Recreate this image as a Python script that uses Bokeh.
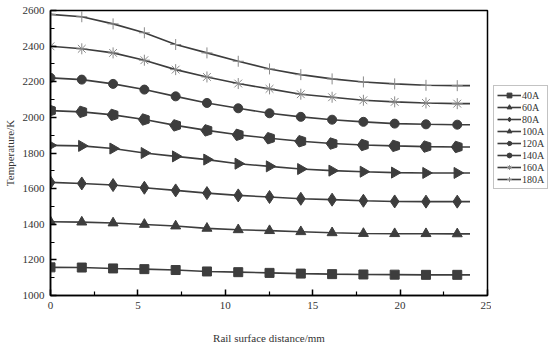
import math
from bokeh.plotting import figure
from bokeh.layouts import row
from bokeh.models import Legend, LegendItem, Range1d, FixedTicker
from bokeh.embed import file_html
from bokeh.resources import INLINE

# ---- data ----
x_mm = [0.0, 1.79, 3.58, 5.37, 7.16, 8.95, 10.74, 12.53, 14.32, 16.11, 17.9, 19.69, 21.48, 23.27, 24.0]
n_markers = 14
series_labels = ["40A", "60A", "80A", "100A", "120A", "140A", "160A", "180A"]
t_40A = [1158, 1157, 1152, 1148, 1143, 1135, 1131, 1127, 1123, 1120, 1118, 1117, 1116, 1116, 1116]
t_60A = [1414, 1412, 1407, 1399, 1390, 1377, 1369, 1364, 1358, 1352, 1348, 1347, 1347, 1346, 1346]
t_80A = [1635, 1629, 1620, 1605, 1590, 1575, 1562, 1553, 1543, 1538, 1532, 1528, 1527, 1527, 1527]
t_100A = [1843, 1840, 1825, 1800, 1781, 1763, 1740, 1725, 1710, 1701, 1695, 1690, 1688, 1688, 1688]
t_120A = [2038, 2031, 2014, 1988, 1955, 1927, 1902, 1883, 1866, 1853, 1845, 1840, 1836, 1834, 1834]
t_140A = [2222, 2212, 2188, 2156, 2118, 2081, 2051, 2023, 2003, 1987, 1975, 1965, 1961, 1959, 1959]
t_160A = [2399, 2385, 2362, 2321, 2268, 2227, 2190, 2160, 2130, 2113, 2096, 2087, 2081, 2077, 2077]
t_180A = [2578, 2565, 2525, 2475, 2409, 2362, 2315, 2272, 2240, 2216, 2199, 2188, 2180, 2178, 2178]
x_ticks = [0, 5, 10, 15, 20, 25]
y_ticks = [1000, 1200, 1400, 1600, 1800, 2000, 2200, 2400, 2600]

all_series = [t_40A, t_60A, t_80A, t_100A, t_120A, t_140A, t_160A, t_180A]
markers = ["square", "triangle", "diamond", "triangle_r", "pentagon", "circle", "asterisk", "cross"]

FONT = "Liberation Serif"
DARK = "#3d3d3d"
LIGHT = "#8a8a8a"

p = figure(width=491, height=346, output_backend="svg", toolbar_location=None,
           x_range=Range1d(0, 25), y_range=Range1d(1000, 2600),
           min_border_left=50, min_border_right=4, min_border_top=10, min_border_bottom=50)
p.xgrid.visible = False
p.ygrid.visible = False
p.outline_line_color = "black"
p.outline_line_width = 1.5
p.outline_line_alpha = 1.0

for ax in (p.xaxis[0], p.yaxis[0]):
    ax.axis_line_color = "black"
    ax.axis_line_width = 1.5
    ax.major_tick_line_color = "black"
    ax.minor_tick_line_color = "black"
    ax.major_tick_line_width = 1.5
    ax.minor_tick_line_width = 1.2
    ax.major_tick_in = 6
    ax.major_tick_out = 0
    ax.minor_tick_in = 4
    ax.minor_tick_out = 0
    ax.major_label_text_font = FONT
    ax.major_label_text_font_size = "11px"
    ax.major_label_text_color = "#333333"
    ax.axis_label_text_font = FONT
    ax.axis_label_text_font_size = "11px"
    ax.axis_label_text_font_style = "normal"
    ax.axis_label_text_color = "#333333"

p.xaxis[0].ticker = FixedTicker(ticks=x_ticks, minor_ticks=[2.5, 7.5, 12.5, 17.5, 22.5])
p.yaxis[0].ticker = FixedTicker(ticks=y_ticks, minor_ticks=[1100, 1300, 1500, 1700, 1900, 2100, 2300, 2500])
p.xaxis[0].axis_label = "Rail surface distance/mm"
p.yaxis[0].axis_label = "Temperature/K"
p.xaxis[0].major_label_standoff = 6
p.xaxis[0].axis_label_standoff = 20
p.yaxis[0].major_label_standoff = 6
p.yaxis[0].axis_label_standoff = 4

# legend lives in a narrow companion figure to the right of the plot frame
p2 = figure(width=57, height=346, output_backend="svg", toolbar_location=None,
            x_range=Range1d(1000, 1001), y_range=Range1d(0, 1),
            x_axis_type=None, y_axis_type=None,
            min_border_left=0, min_border_right=0, min_border_top=0, min_border_bottom=0)
p2.xgrid.visible = False
p2.ygrid.visible = False
p2.outline_line_color = None


def add_series(fig, xs, ys, mk):
    lr = fig.line(xs, ys, line_color=DARK, line_width=1.6)
    xm = xs[:n_markers]
    ym = ys[:n_markers]
    if mk == "triangle_r":
        mr = fig.scatter(xm, ym, marker="triangle", size=11, angle=-math.pi / 2,
                         fill_color=DARK, line_color=DARK)
    elif mk == "pentagon":
        try:
            mr = fig.ngon(xm, ym, radius=6, radius_units="screen", n=5, angle=math.pi / 2,
                          fill_color=DARK, line_color=DARK)
        except Exception:
            mr = fig.scatter(xm, ym, marker="hex", size=10, fill_color=DARK, line_color=DARK)
    elif mk == "asterisk":
        mr = fig.scatter(xm, ym, marker="asterisk", size=11, line_color=LIGHT, line_width=1)
    elif mk == "cross":
        mr = fig.scatter(xm, ym, marker="cross", size=11, line_color=LIGHT, line_width=1)
    elif mk == "diamond":
        mr = fig.scatter(xm, ym, marker="diamond", size=13, fill_color=DARK, line_color=DARK)
    elif mk == "triangle":
        mr = fig.scatter(xm, ym, marker="triangle", size=10, fill_color=DARK, line_color=DARK)
    else:
        mr = fig.scatter(xm, ym, marker=mk, size=9, fill_color=DARK, line_color=DARK)
    return lr, mr


items = []
for lab, ys, mk in zip(series_labels, all_series, markers):
    add_series(p, x_mm, ys, mk)
    lr2, mr2 = add_series(p2, x_mm, ys, mk)   # out of view; used only for legend glyphs
    items.append(LegendItem(label=lab, renderers=[lr2, mr2]))

legend = Legend(items=items, location=(2, 106))
legend.label_text_font = FONT
legend.label_text_font_size = "10px"
legend.label_text_line_height = 1.0
legend.label_text_color = "#333333"
legend.glyph_width = 24
legend.glyph_height = 12
legend.label_height = 12
legend.label_standoff = 1
legend.spacing = 0
legend.padding = 3
legend.margin = 0
legend.border_line_color = "#888888"
legend.border_line_width = 1
legend.background_fill_alpha = 1.0
p2.add_layout(legend, "center")

layout = row(p, p2)
open("out.html", "w").write(file_html(layout, INLINE))
